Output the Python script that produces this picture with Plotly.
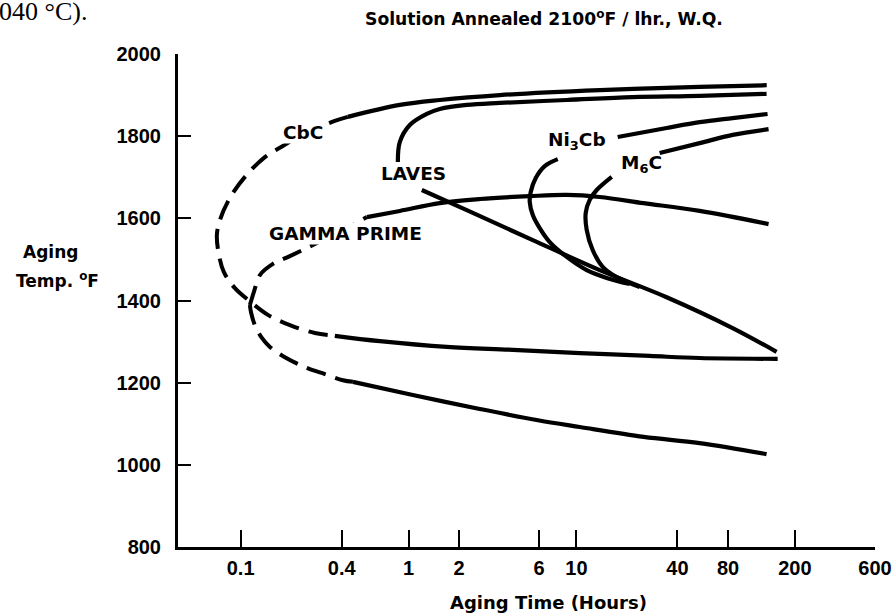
import math
import plotly.graph_objects as go

# ---------------- data (aging time in hours, temperature in degF) ----------------
cbc_upper_t = [0.435, 0.888, 1.535, 3.50, 13.8, 54, 136]
cbc_upper_T = [1847, 1876, 1888, 1900, 1912, 1920, 1924]
cbc_dash_t = [0.435, 0.364, 0.225, 0.1785, 0.1395, 0.1061, 0.0864, 0.0753, 0.0722,
              0.0743, 0.0795, 0.0925, 0.1152, 0.1454, 0.1966, 0.2769, 0.364]
cbc_dash_T = [1847, 1837, 1800, 1776, 1749, 1701, 1650, 1596, 1559,
              1511, 1469, 1430, 1396, 1365, 1340, 1321, 1314]
cbc_lower_t = [0.364, 0.675, 1.69, 4.18, 10.5, 27.3, 54, 158]
cbc_lower_T = [1314, 1301, 1287, 1280, 1272, 1265, 1260, 1258]

laves_upper_t = [0.864, 0.888, 1.018, 1.285, 1.535, 2.223, 3.496, 8.756, 21.64, 54.2, 135.7]
laves_upper_T = [1737, 1786, 1827, 1854, 1866, 1876, 1881, 1888, 1895, 1898, 1903]
laves_lower_t = [1.200, 2.223, 5.496, 13.76, 34.47, 85.2, 155.7]
laves_lower_T = [1669, 1620, 1547, 1474, 1408, 1333, 1275]

gp_dash_upper_t = [0.1136, 0.1200, 0.1303, 0.1557, 0.1966, 0.2694, 0.390, 0.5648]
gp_dash_upper_T = [1389, 1421, 1462, 1489, 1508, 1535, 1567, 1603]
gp_upper_t = [0.5648, 0.888, 1.535, 2.657, 5.272, 8.756, 13.76, 25.15, 54.2, 139.5]
gp_upper_T = [1603, 1618, 1637, 1647, 1654, 1657, 1652, 1637, 1618, 1586]
gp_dash_lower_t = [0.1136, 0.1152, 0.1216, 0.1339, 0.1494, 0.1835, 0.2480, 0.3176, 0.4064, 0.4663]
gp_dash_lower_T = [1389, 1372, 1340, 1309, 1287, 1262, 1236, 1221, 1206, 1202]
gp_lower_t = [0.4663, 1.061, 2.657, 5.80, 10.46, 25.15, 54.2, 135.7]
gp_lower_T = [1202, 1170, 1136, 1109, 1092, 1068, 1053, 1026]

ni3cb_upper_t = [17.61, 34.47, 54.2, 85.2, 137.6]
ni3cb_upper_T = [1798, 1820, 1834, 1844, 1854]
ni3cb_lower_t = [7.741, 6.476, 5.725, 5.345, 5.272, 5.50, 6.046, 6.937, 8.756, 11.515, 15.15, 20.77]
ni3cb_lower_T = [1744, 1727, 1698, 1664, 1640, 1608, 1576, 1542, 1506, 1474, 1455, 1440]

m6c_upper_t = [31.31, 54.2, 85.2, 139.5]
m6c_upper_T = [1759, 1783, 1803, 1817]
m6c_lower_t = [16.23, 13.21, 12.0, 11.36, 11.515, 12.50, 14.34, 17.38, 23.82]
m6c_lower_T = [1701, 1669, 1645, 1613, 1572, 1523, 1482, 1457, 1433]

x_tick_vals = [0.1, 0.4, 1, 2, 6, 10, 40, 80, 200, 600]
x_tick_text = ["0.1", "0.4", "1", "2", "6", "10", "40", "80", "200", "600"]
y_tick_vals = [800, 1000, 1200, 1400, 1600, 1800, 2000]

phase_labels = ["CbC", "LAVES", "GAMMA PRIME", "Ni<sub>3</sub>Cb", "M<sub>6</sub>C"]
phase_label_t = [0.235, 1.075, 0.4236, 10.04, 24.5]
phase_label_T = [1808, 1710, 1564, 1788, 1732]
phase_label_masks = [True, False, True, False, False]

# ---------------- figure ----------------
FONT = "Liberation Sans, Arial, sans-serif"
WFONT = "DejaVu Sans, Verdana, sans-serif"
LW = 4.2
DASH = "20px,10px"

fig = go.Figure()

def add(t, T, dashed=False):
    fig.add_trace(go.Scatter(
        x=t, y=T, mode="lines",
        line=dict(color="black", width=LW if not dashed else 4,
                  dash=DASH if dashed else "solid", shape="spline", smoothing=1.0),
        hoverinfo="skip", showlegend=False))

add(cbc_upper_t, cbc_upper_T)
add(cbc_dash_t, cbc_dash_T, dashed=True)
add(cbc_lower_t, cbc_lower_T)
add(laves_upper_t, laves_upper_T)
add(laves_lower_t, laves_lower_T)
add(gp_dash_upper_t, gp_dash_upper_T, dashed=True)
add(gp_upper_t, gp_upper_T)
add(gp_dash_lower_t, gp_dash_lower_T, dashed=True)
add(gp_lower_t, gp_lower_T)
add(ni3cb_upper_t, ni3cb_upper_T)
add(ni3cb_lower_t, ni3cb_lower_T)
add(m6c_upper_t, m6c_upper_T)
add(m6c_lower_t, m6c_lower_T)

ann = []
for txt, t, T, mask in zip(phase_labels, phase_label_t, phase_label_T, phase_label_masks):
    ann.append(dict(x=math.log10(t), y=T, xref="x", yref="y", text=txt,
                    showarrow=False, font=dict(family=WFONT, size=18.5, color="black", weight="bold"),
                    bgcolor="white" if mask else "rgba(0,0,0,0)", borderpad=0,
                    xanchor="center", yanchor="middle"))

PL, PW, PT, PH = 178, 697.5, 54, 493

def px(xp):
    return (xp - PL) / PW

def py(yp):
    return (PT + PH - yp) / PH

ann += [
    dict(x=px(544), y=py(18), xref="paper", yref="paper",
         text="Solution Annealed 2100<sup>o</sup>F / lhr., W.Q.", showarrow=False,
         font=dict(family=WFONT, size=17.2, color="black", weight="bold"),
         xanchor="center", yanchor="middle"),
    dict(x=px(50), y=py(252), xref="paper", yref="paper", text="Aging", showarrow=False,
         font=dict(family=WFONT, size=17, color="black", weight="bold"),
         xanchor="center", yanchor="middle"),
    dict(x=px(57), y=py(280), xref="paper", yref="paper", text="Temp. <sup>o</sup>F", showarrow=False,
         font=dict(family=WFONT, size=17, color="black", weight="bold"),
         xanchor="center", yanchor="middle"),
    dict(x=px(549), y=py(602), xref="paper", yref="paper", text="Aging Time (Hours)", showarrow=False,
         font=dict(family=WFONT, size=18, color="black", weight="bold"),
         xanchor="center", yanchor="middle"),
    dict(x=px(-3), y=py(12), xref="paper", yref="paper", text="040 °C).", showarrow=False,
         font=dict(family="Liberation Serif, Times New Roman, serif", size=26, color="black"),
         xanchor="left", yanchor="middle"),
]

fig.update_layout(
    width=892, height=614,
    margin=dict(l=PL, r=892 - PL - PW, t=PT, b=614 - PT - PH, pad=0, autoexpand=False),
    paper_bgcolor="white", plot_bgcolor="white",
    showlegend=False,
    annotations=ann,
    xaxis=dict(type="log", range=[-1.373, 2.7785], automargin=False,
               tickmode="array", tickvals=x_tick_vals, ticktext=x_tick_text,
               ticks="inside", ticklen=17, tickwidth=2, tickcolor="black",
               showline=True, linecolor="black", linewidth=3,
               showgrid=False, zeroline=False, ticklabelstandoff=1,
               tickfont=dict(family=FONT, size=20, color="black", weight="bold")),
    yaxis=dict(range=[800, 2000], automargin=False,
               tickmode="array", tickvals=y_tick_vals,
               ticks="inside", ticklen=13, tickwidth=2, tickcolor="black",
               showline=True, linecolor="black", linewidth=3,
               showgrid=False, zeroline=False, ticklabelstandoff=10,
               tickfont=dict(family=FONT, size=20, color="black", weight="bold")),
)

fig.write_html(
    "out.html",
    config={"displayModeBar": False},
    post_script="document.body.style.margin='0';document.body.style.padding='0';",
)
